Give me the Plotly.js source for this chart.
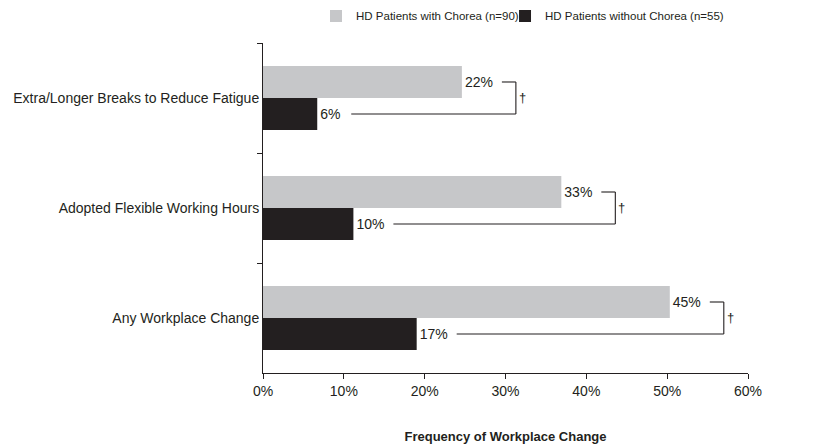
<!DOCTYPE html>
<html>
<head>
<meta charset="utf-8">
<script src="https://cdn.plot.ly/plotly-3.0.1.min.js"></script>
<style>html,body{margin:0;padding:0;background:#fff;}#chart{width:819px;height:444px;}</style>
</head>
<body>
<div id="chart"></div>
<script>
// ---- data ----
const categories = [
  'Extra/Longer Breaks to Reduce Fatigue',
  'Adopted Flexible Working Hours',
  'Any Workplace Change'
];
const withChorea = [22, 33, 45];
const withoutChorea = [6, 10, 17];
const seriesNames = ['HD Patients with Chorea (n=90)', 'HD Patients without Chorea (n=55)'];
const tickValues = [0, 10, 20, 30, 40, 50, 60];
const tickLabels = ['0%', '10%', '20%', '30%', '40%', '50%', '60%'];
const significanceMark = '\u2020';
const axisTitle = 'Frequency of Workplace Change';

// ---- styling ----
const GRAY = '#c6c7c9';
const DARK = '#231f20';
const FONT = 'Liberation Sans, Arial, sans-serif';
const plotW = 485;            // plot width in px
const barRange = 53.65;       // bar axis range (bars drawn at original scale)
const u = barRange / plotW;   // data units per px
const bandHalf = (1 - 0.418) / 4; // offset of bar centre from category centre

const traces = [
  {
    type: 'bar', orientation: 'h', name: seriesNames[0],
    y: categories, x: withChorea,
    marker: {color: GRAY},
    text: withChorea.map(v => v + '%'), textposition: 'outside',
    textfont: {family: FONT, size: 14, color: DARK},
    cliponaxis: false, hoverinfo: 'skip', legend: 'legend'
  },
  {
    type: 'bar', orientation: 'h', name: seriesNames[1],
    y: categories, x: withoutChorea,
    marker: {color: DARK},
    text: withoutChorea.map(v => v + '%'), textposition: 'outside',
    textfont: {family: FONT, size: 14, color: DARK},
    cliponaxis: false, hoverinfo: 'skip', legend: 'legend2'
  },
  { type: 'scatter', x: [], y: [], xaxis: 'x2', showlegend: false, hoverinfo: 'skip' }
];

const shapes = [];
const annotations = [];
const lineStyle = {color: DARK, width: 1.1};
categories.forEach((c, i) => {
  const g = withChorea[i], b = withoutChorea[i];
  const yg = i - bandHalf, yb = i + bandHalf;
  const bx = g + 54 * u;
  const gStart = g + 40 * u;
  const bStart = b + (28 + 6 * String(b).length) * u;
  shapes.push({type: 'line', xref: 'x', yref: 'y', x0: gStart, x1: bx, y0: yg, y1: yg, line: lineStyle});
  shapes.push({type: 'line', xref: 'x', yref: 'y', x0: bStart, x1: bx, y0: yb, y1: yb, line: lineStyle});
  shapes.push({type: 'line', xref: 'x', yref: 'y', x0: bx, x1: bx, y0: yg, y1: yb, line: lineStyle});
  annotations.push({
    xref: 'x', yref: 'y', x: bx, y: i, text: significanceMark, showarrow: false,
    xanchor: 'left', xshift: 1, yshift: 1, font: {family: FONT, size: 13, color: DARK}
  });
});

const legendBase = {
  orientation: 'h', xanchor: 'left', y: 1.126, yanchor: 'top',
  bgcolor: 'rgba(0,0,0,0)',
  font: {family: FONT, size: 11.5, color: DARK}, itemwidth: 30
};

const layout = {
  width: 819, height: 444,
  margin: {l: 263, r: 71, t: 43, b: 71, autoexpand: false},
  paper_bgcolor: '#fff', plot_bgcolor: '#fff',
  font: {family: FONT, color: DARK, size: 14},
  barmode: 'group', bargap: 0.418, bargroupgap: 0,
  showlegend: true,
  legend: Object.assign({}, legendBase, {x: 0.1093}),
  legend2: Object.assign({}, legendBase, {x: 0.499}),
  xaxis: {
    range: [0, barRange], visible: false, fixedrange: true
  },
  xaxis2: {
    overlaying: 'x', anchor: 'y', side: 'bottom',
    range: [0, 60], tickmode: 'array', tickvals: tickValues, ticktext: tickLabels,
    showline: true, linecolor: DARK, linewidth: 1,
    ticks: 'outside', ticklen: 5, tickcolor: DARK, tickwidth: 1,
    showgrid: false, zeroline: false,
    tickfont: {family: FONT, size: 14, color: DARK},
    title: {text: '<b>' + axisTitle + '</b>', font: {family: FONT, size: 13, color: DARK}, standoff: 34}
  },
  yaxis: {
    type: 'category', autorange: false, range: [2.5, -0.5],
    showline: true, linecolor: DARK, linewidth: 1,
    ticks: 'outside', tickson: 'boundaries', ticklen: 5, tickcolor: DARK, tickwidth: 1,
    showgrid: false, zeroline: false,
    tickfont: {family: FONT, size: 14, color: DARK}
  },
  shapes: shapes,
  annotations: annotations
};

Plotly.newPlot('chart', traces, layout, {displayModeBar: false, staticPlot: true});
</script>
</body>
</html>
